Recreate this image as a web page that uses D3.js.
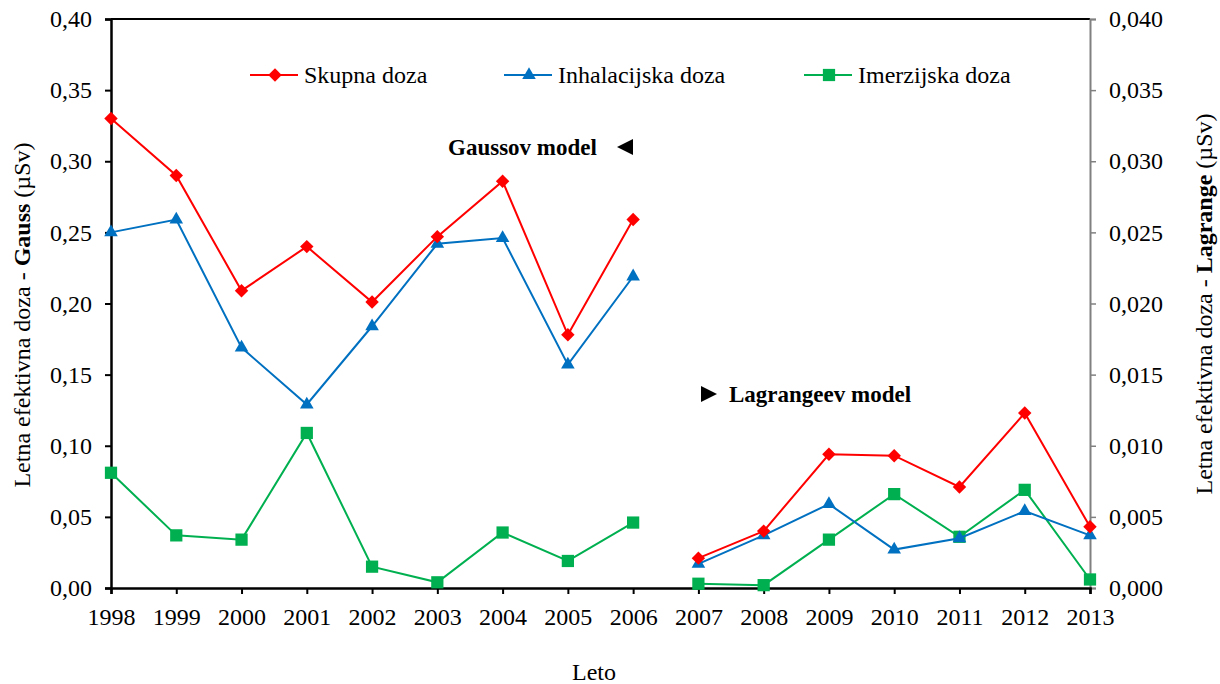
<!DOCTYPE html>
<html>
<head>
<meta charset="utf-8">
<script src="https://cdn.jsdelivr.net/npm/d3@7"></script>
<style>
  body { margin: 0; background: #fff; }
  svg { font-family: "Liberation Serif", "Times New Roman", serif; }
</style>
</head>
<body>
<svg id="chart" width="1220" height="684"></svg>
<script>
// Years on the shared horizontal axis
const years = ["1998","1999","2000","2001","2002","2003","2004","2005","2006",
               "2007","2008","2009","2010","2011","2012","2013"];

// Gaussian model results (left axis), 1998–2006
const gaussYears = ["1998","1999","2000","2001","2002","2003","2004","2005","2006"];
const gaussSkupna = [0.330, 0.290, 0.209, 0.240, 0.201, 0.247, 0.286, 0.178, 0.259];
const gaussInhal  = [0.250, 0.259, 0.169, 0.129, 0.184, 0.242, 0.246, 0.157, 0.219];
const gaussImerz  = [0.081, 0.037, 0.034, 0.109, 0.015, 0.004, 0.039, 0.019, 0.046];

// Lagrangian model results (right axis), 2007–2013
const lagYears = ["2007","2008","2009","2010","2011","2012","2013"];
const lagSkupna = [0.0021, 0.0040, 0.0094, 0.0093, 0.0071, 0.0123, 0.0043];
const lagInhal  = [0.0017, 0.0037, 0.0059, 0.0027, 0.0035, 0.0054, 0.0037];
const lagImerz  = [0.0003, 0.0002, 0.0034, 0.0066, 0.0036, 0.0069, 0.0006];

const leftTicks  = [0, 0.05, 0.10, 0.15, 0.20, 0.25, 0.30, 0.35, 0.40];
const rightTicks = [0, 0.005, 0.010, 0.015, 0.020, 0.025, 0.030, 0.035, 0.040];

const seriesNames = ["Skupna doza", "Inhalacijska doza", "Imerzijska doza"];
const seriesColors = ["#ff0000", "#0070c0", "#00b050"];
const seriesSymbols = [d3.symbolDiamond2, d3.symbolTriangle, d3.symbolSquare];
const symbolSizes = [115, 80, 150];

const svg = d3.select("#chart");
const L = 111, R = 1090, T = 19, B = 588;
const FONT = "Liberation Serif, Times New Roman, serif";

const x = d3.scalePoint().domain(years).range([L, R]);
const yL = d3.scaleLinear().domain([0, 0.40]).range([B, T]);
const yR = d3.scaleLinear().domain([0, 0.040]).range([B, T]);

const fmt = (d, n) => d.toFixed(n).replace(".", ",");

// top frame line
svg.append("line").attr("x1", L).attr("x2", R).attr("y1", T).attr("y2", T)
  .attr("stroke", "#000").attr("stroke-width", 2);

// right axis (grey)
const gR = svg.append("g").attr("transform", `translate(${R},0)`)
  .call(d3.axisRight(yR).tickValues(rightTicks).tickSize(6).tickPadding(13).tickFormat(d => fmt(d, 3)));
gR.select(".domain").attr("stroke", "#808080").attr("stroke-width", 2);
gR.selectAll(".tick line").attr("stroke", "#808080").attr("stroke-width", 1.5);
gR.selectAll("text").attr("font-size", 24).attr("fill", "#000").attr("font-family", FONT);

// left axis
const gL = svg.append("g").attr("transform", `translate(${L},0)`)
  .call(d3.axisLeft(yL).tickValues(leftTicks).tickSize(6).tickPadding(13).tickFormat(d => fmt(d, 2)));
gL.select(".domain").attr("stroke", "#000").attr("stroke-width", 2.5);
gL.selectAll(".tick line").attr("stroke", "#000").attr("stroke-width", 2);
gL.selectAll("text").attr("font-size", 24).attr("fill", "#000").attr("font-family", FONT);

// bottom axis
const gB = svg.append("g").attr("transform", `translate(0,${B})`)
  .call(d3.axisBottom(x).tickSize(6).tickPadding(14));
gB.select(".domain").attr("stroke", "#000").attr("stroke-width", 2.5);
gB.selectAll(".tick line").attr("stroke", "#000").attr("stroke-width", 2);
gB.selectAll("text").attr("font-size", 24).attr("fill", "#000").attr("font-family", FONT);

// series
function drawSeries(xs, vals, yScale, i) {
  const pts = xs.map((yr, k) => [x(yr), yScale(vals[k])]);
  svg.append("path").attr("d", d3.line()(pts))
    .attr("fill", "none").attr("stroke", seriesColors[i]).attr("stroke-width", 2);
  svg.append("g").selectAll("path").data(pts).join("path")
    .attr("transform", d => `translate(${d[0]},${d[1]})`)
    .attr("d", d3.symbol().type(seriesSymbols[i]).size(symbolSizes[i]))
    .attr("fill", seriesColors[i]);
}
const gaussData = [gaussSkupna, gaussInhal, gaussImerz];
const lagData = [lagSkupna, lagInhal, lagImerz];
[2, 1, 0].forEach(i => {
  drawSeries(gaussYears, gaussData[i], yL, i);
  drawSeries(lagYears, lagData[i], yR, i);
});

// legend
const legX = [250, 504, 804];
seriesNames.forEach((name, i) => {
  const g = svg.append("g").attr("transform", `translate(${legX[i]},75)`);
  g.append("line").attr("x1", 0).attr("x2", 48).attr("stroke", seriesColors[i]).attr("stroke-width", 2);
  g.append("path").attr("transform", "translate(25,0)")
    .attr("d", d3.symbol().type(seriesSymbols[i]).size(symbolSizes[i]))
    .attr("fill", seriesColors[i]);
  g.append("text").attr("x", 54).attr("y", 8).attr("font-size", 24).text(name);
});

// model annotations
svg.append("text").attr("x", 448).attr("y", 155).attr("font-size", 23)
  .attr("font-weight", "bold").text("Gaussov model");
svg.append("path").attr("d", "M 617 147 L 633 139 L 633 155 Z").attr("fill", "#000");

svg.append("path").attr("d", "M 701 386 L 717 394 L 701 402 Z").attr("fill", "#000");
svg.append("text").attr("x", 729).attr("y", 402).attr("font-size", 23)
  .attr("font-weight", "bold").text("Lagrangeev model");

// axis titles
svg.append("text").attr("x", 594).attr("y", 680).attr("text-anchor", "middle")
  .attr("font-size", 24).text("Leto");

const tl = svg.append("text").attr("transform", "translate(30,315) rotate(-90)")
  .attr("text-anchor", "middle").attr("font-size", 24);
tl.append("tspan").text("Letna efektivna doza - ");
tl.append("tspan").attr("font-weight", "bold").text("Gauss");
tl.append("tspan").text(" (µSv)");

const tr = svg.append("text").attr("transform", "translate(1212,304) rotate(-90)")
  .attr("text-anchor", "middle").attr("font-size", 24);
tr.append("tspan").text("Letna efektivna doza - ");
tr.append("tspan").attr("font-weight", "bold").text("Lagrange");
tr.append("tspan").text(" (µSv)");
</script>
</body>
</html>
